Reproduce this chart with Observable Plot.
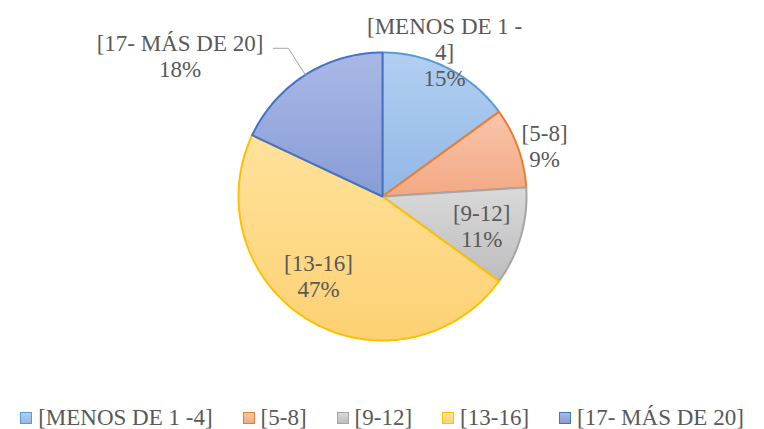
<!DOCTYPE html>
<html>
<head>
<meta charset="utf-8">
<script src="https://cdn.jsdelivr.net/npm/d3@7"></script>
<script src="https://cdn.jsdelivr.net/npm/@observablehq/plot@0.6"></script>
<style>
  html, body { margin: 0; padding: 0; background: #fff; }
  #chart { width: 764px; height: 429px; position: relative; overflow: hidden; }
  #chart svg text, #chart svg tspan { font-family: 'Liberation Serif', 'Times New Roman', serif !important; }
  .legend { display: flex; justify-content: center; align-items: center; height: 31px; margin-top: 4px;
    font-family: 'Liberation Serif', 'Times New Roman', serif; font-size: 23px; color: #595959; gap: 30px; white-space: nowrap; }
  .legend .item { display: flex; align-items: center; }
  .legend .sw { width: 10px; height: 10px; margin-right: 6px; border: 1px solid; }
</style>
</head>
<body>
<div id="chart"></div>
<script>
// ---- data ----
const categories = ["[MENOS DE 1 -4]", "[5-8]", "[9-12]", "[13-16]", "[17- MÁS DE 20]"];
const sliceLabels = ["[MENOS DE 1 -\n4]", "[5-8]", "[9-12]", "[13-16]", "[17- MÁS DE 20]"];
const percents = [15, 9, 11, 47, 18];

// ---- styles / layout ----
const strokeColors = ["#5b9bd5", "#ed7d31", "#a5a5a5", "#ffc000", "#4472c4"];
const gradTop = ["#b2cff2", "#f9c6ab", "#d9d9d9", "#ffe29c", "#a9b8e6"];
const gradBot = ["#92b7e5", "#f3a883", "#bdbdbd", "#fdd173", "#889dd6"];
const labelPlace = [ {r: 1.095, da: -3.8}, {r: 1.18, da: 2.3}, {r: 0.717, da: 0}, {r: 0.706, da: 8.4}, {r: 1.714, da: -22.7} ];
const W = 764, H = 398, CX = 382, CY = 196, R = 144;
const FONT = "Liberation Serif";

const arcs = d3.pie().sort(null).value(d => d)(percents);
const polar = (a, r) => ({x: r * Math.sin(a), y: -r * Math.cos(a)});

const sliceMarks = arcs.map((a, i) => {
  const pts = [{x: 0, y: 0}];
  const n = Math.max(2, Math.ceil((a.endAngle - a.startAngle) / (Math.PI / 180)));
  for (let k = 0; k <= n; k++) pts.push(polar(a.startAngle + (a.endAngle - a.startAngle) * k / n, 1));
  return Plot.line(pts, {x: "x", y: "y", curve: "linear-closed", fill: `url(#g${i})`,
    stroke: strokeColors[i], strokeWidth: 2, strokeLinejoin: "round"});
});

const labels = arcs.map((a, i) => {
  const mid = (a.startAngle + a.endAngle) / 2 + labelPlace[i].da * Math.PI / 180;
  const p = polar(mid, labelPlace[i].r);
  return {x: p.x, y: p.y, text: sliceLabels[i] + "\n" + percents[i] + "%", i};
});

// leader line for the last slice (label outside)
const ctx = document.createElement("canvas").getContext("2d");
ctx.font = "23px 'Liberation Serif'";
const last = labels[4];
const halfW = ctx.measureText(sliceLabels[4]).width / 2;
const aLast = (arcs[4].startAngle + arcs[4].endAngle) / 2;
const edge = polar(aLast, 1);
const ly = last.y - 7 / R;
const leader = [
  {x: last.x + (halfW + 10) / R, y: ly},
  {x: last.x + (halfW + 25) / R, y: ly},
  {x: edge.x, y: edge.y}
];

const svg = Plot.plot({
  width: W, height: H,
  margin: 0,
  x: {domain: [-CX / R, (W - CX) / R], range: [0, W], axis: null},
  y: {domain: [-CY / R, (H - CY) / R], range: [0, H], axis: null},
  style: {fontFamily: FONT, background: "#fff"},
  marks: [
    ...sliceMarks,
    Plot.line(leader, {x: "x", y: "y", stroke: "#a6a6a6", strokeWidth: 1}),
    Plot.text(labels, {x: "x", y: "y", text: "text", fontSize: 23, fontFamily: FONT,
      fill: "#595959", lineHeight: 1.13})
  ]
});

const defs = d3.select(svg).insert("defs", ":first-child");
gradTop.forEach((c, i) => {
  const g = defs.append("linearGradient").attr("id", `g${i}`).attr("x1", 0).attr("y1", 0).attr("x2", 0).attr("y2", 1);
  g.append("stop").attr("offset", "0%").attr("stop-color", c);
  g.append("stop").attr("offset", "100%").attr("stop-color", gradBot[i]);
});

const root = document.getElementById("chart");
root.appendChild(svg);

const legend = document.createElement("div");
legend.className = "legend";
categories.forEach((c, i) => {
  const it = document.createElement("div");
  it.className = "item";
  const sw = document.createElement("span");
  sw.className = "sw";
  sw.style.background = `linear-gradient(${gradTop[i]}, ${gradBot[i]})`;
  sw.style.borderColor = strokeColors[i];
  const t = document.createElement("span");
  t.textContent = c;
  it.appendChild(sw); it.appendChild(t);
  legend.appendChild(it);
});
root.appendChild(legend);
</script>
</body>
</html>
